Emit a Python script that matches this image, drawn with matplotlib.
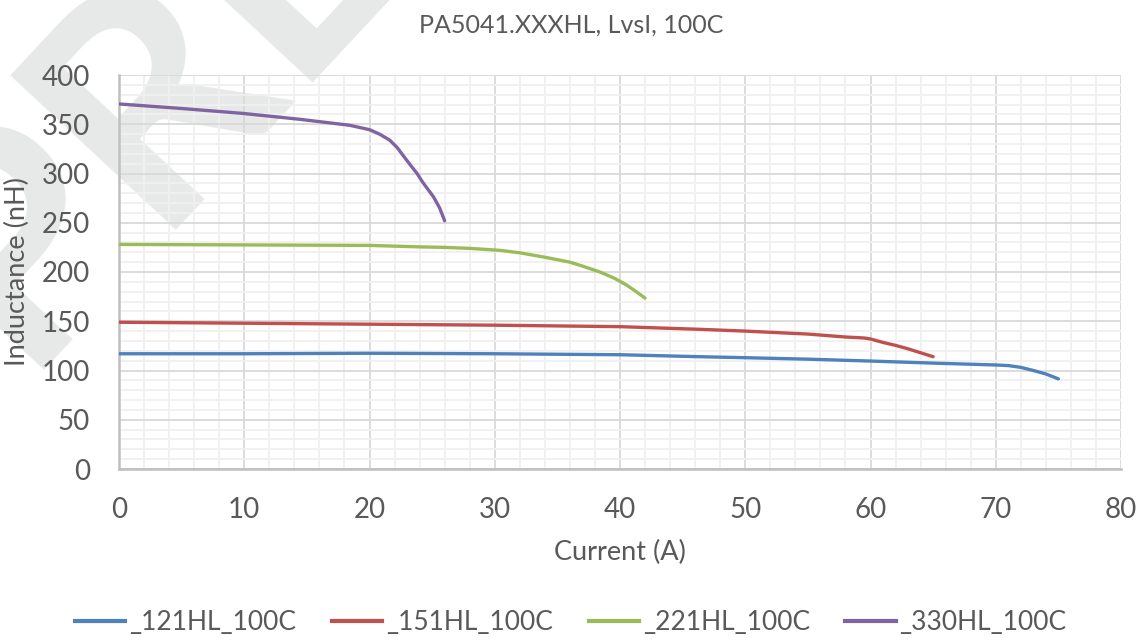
import matplotlib
matplotlib.use("Agg")
import matplotlib.pyplot as plt
from matplotlib.ticker import MultipleLocator
from matplotlib.lines import Line2D

# Data
i_121 = [0, 10, 20, 30, 40, 46.4, 50, 55, 60, 65, 70, 71, 72, 73, 74, 75]
l_121 = [117, 117, 117.5, 117, 116, 114, 113, 111.5, 109.6, 107.5, 105.6, 105, 103.2, 100, 96.5, 91.5]

i_151 = [0, 10, 20, 30, 40, 46.4, 50, 55, 58, 59.5, 60, 61, 62, 63, 64, 65]
l_151 = [149, 148, 147, 146, 144.5, 141.8, 140, 137, 134, 133, 132, 128.5, 125.5, 122, 118, 114]

i_221 = [0, 10, 20, 24, 26, 28, 30.4, 32, 34, 35.2, 36, 37, 38.4, 39.5, 40.5, 41.3, 42]
l_221 = [228, 227.5, 227, 225.5, 225, 224, 222, 219.5, 215, 212, 210, 206, 200, 194, 187, 180, 173.5]

i_330 = [0, 5, 9.9, 14.45, 18.4, 20, 20.8, 21.6, 22.2, 22.7, 23.3, 23.8, 24.2, 24.6, 25.1, 25.6, 26.0]
l_330 = [370.6, 366, 361, 355, 349, 344.5, 340, 334, 326.5, 318, 308, 300, 292, 285, 276.5, 265, 252]

series_names = ["_121HL_100C", "_151HL_100C", "_221HL_100C", "_330HL_100C"]
colors = ["#4f81bd", "#c0504d", "#9bbb59", "#8064a2"]

title = "PA5041.XXXHL, LvsI, 100C"
xlabel = "Current (A)"
ylabel = "Inductance (nH)"

plt.rcParams['font.family'] = ['Lato', 'DejaVu Sans']
W, H = 1142, 641
fig = plt.figure(figsize=(W / 100, H / 100), dpi=100)

# watermark (behind the chart)
fig.text(20 / W, 1 - 370 / H, "PRELIMINARY", rotation=47, fontsize=225, fontweight='bold',
         color='#e7e9e9', ha='left', va='baseline', zorder=-10, rotation_mode='anchor')

ax = fig.add_axes([119 / W, 1 - 469 / H, (1121 - 119) / W, (469 - 75) / H])
ax.patch.set_alpha(0)

handles = []
for xs, ys, name, c in zip([i_121, i_151, i_221, i_330], [l_121, l_151, l_221, l_330], series_names, colors):
    ax.plot(xs, ys, color=c, lw=2.4, solid_capstyle='round', solid_joinstyle='round', zorder=3)
    handles.append(Line2D([], [], color=c, lw=3))

ax.set_xlim(0, 80)
ax.set_ylim(0, 400)
ax.xaxis.set_major_locator(MultipleLocator(10))
ax.xaxis.set_minor_locator(MultipleLocator(2))
ax.yaxis.set_major_locator(MultipleLocator(50))
ax.yaxis.set_minor_locator(MultipleLocator(10))
ax.grid(which='minor', color='#f0f0f0', lw=1.3, zorder=1)
ax.grid(which='major', color='#d9d9d9', lw=1.3, zorder=1)
ax.set_axisbelow(True)
for s in ['top', 'right']:
    ax.spines[s].set_visible(False)
for s in ['left', 'bottom']:
    ax.spines[s].set_color('#bfbfbf')
    ax.spines[s].set_linewidth(1.8)
ax.tick_params(which='both', length=0, labelsize=20, labelcolor='#595959')
ax.tick_params(axis='x', pad=20)
ax.tick_params(axis='y', pad=21)

ax.set_xlabel(xlabel, fontsize=19.5, color='#595959', labelpad=12)
ax.set_ylabel(ylabel, fontsize=19.5, color='#595959', labelpad=8)
fig.text(0.5, 1 - 25 / H, title, ha='center', va='center', fontsize=18, color='#595959')

fig.legend(handles, series_names, loc='center', bbox_to_anchor=(0.5, 1 - 623 / H), ncol=4,
           frameon=False, fontsize=19, labelcolor='#595959', handlelength=1.9,
           columnspacing=1.35, handletextpad=0.15)

fig.savefig("out.png", dpi=100)
